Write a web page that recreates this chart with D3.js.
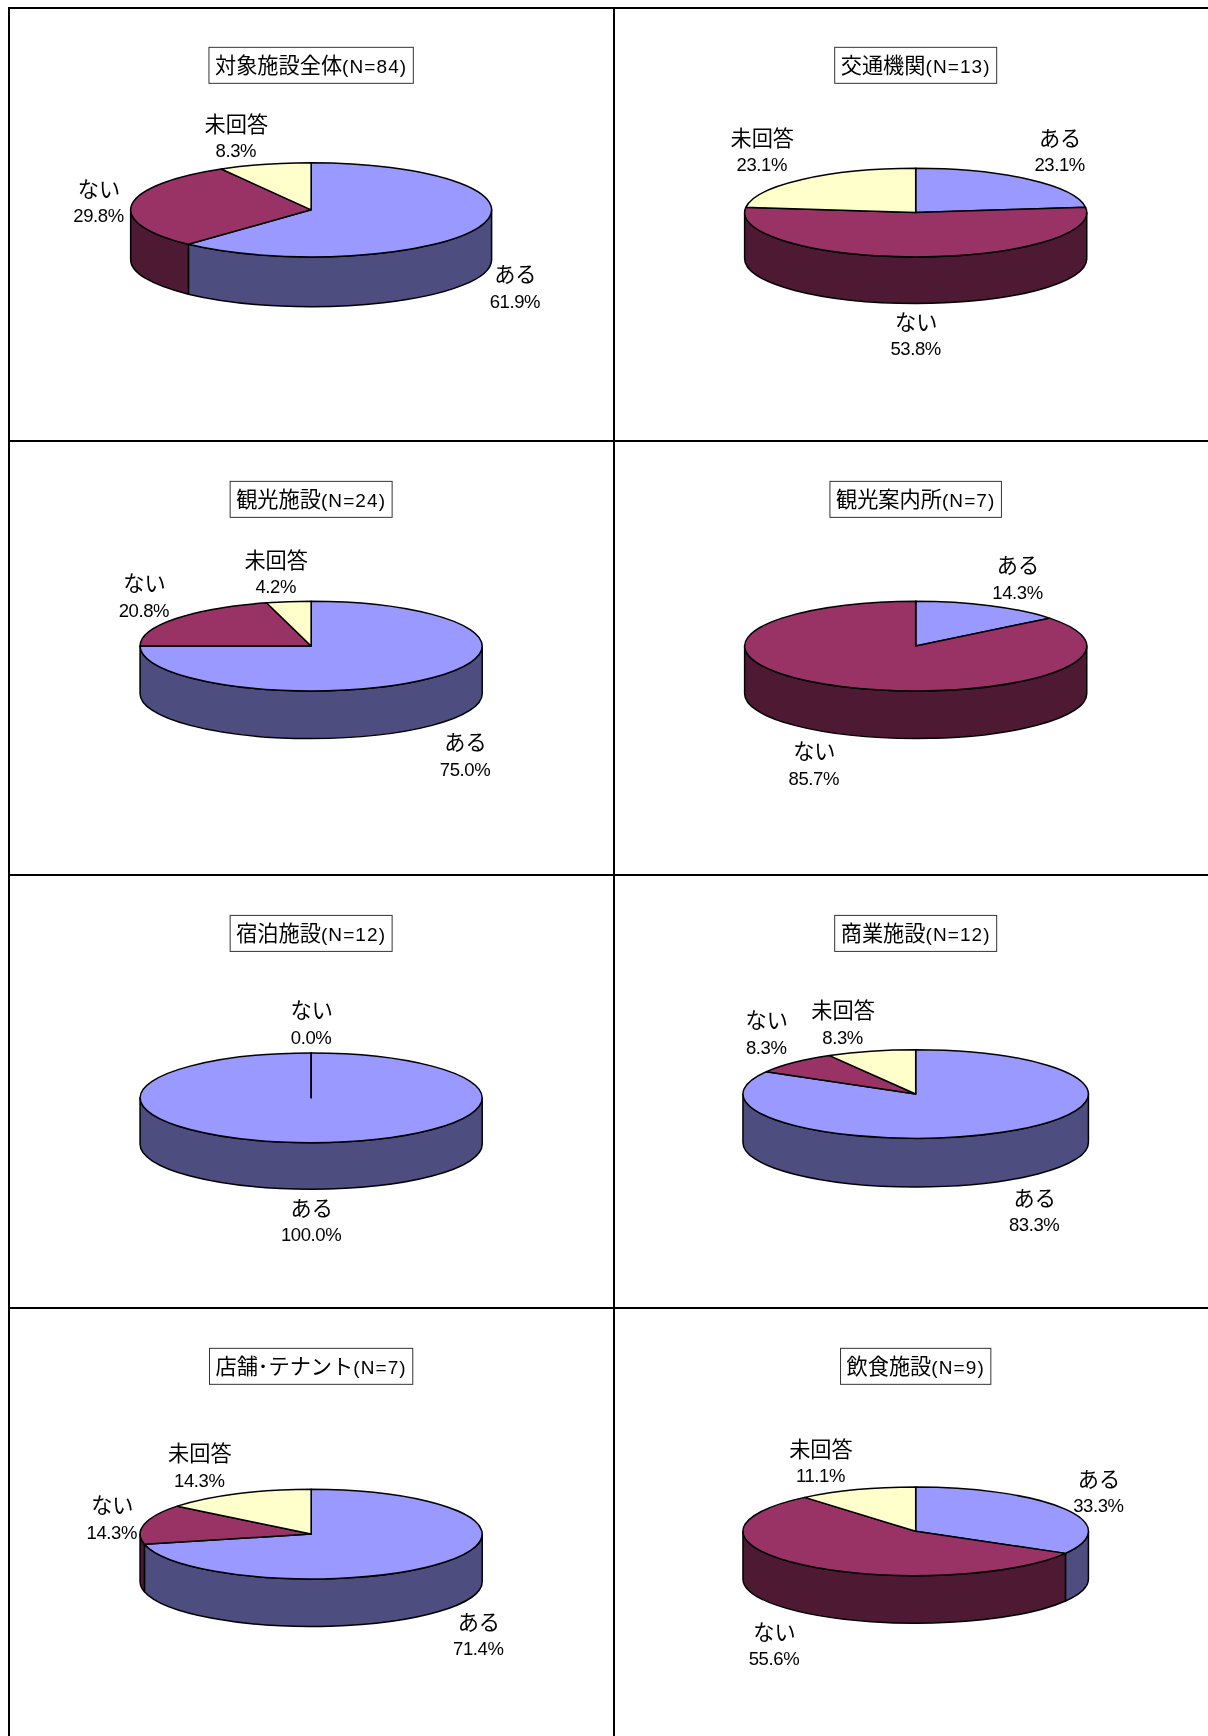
<!DOCTYPE html>
<html lang="ja">
<head>
<meta charset="utf-8">
<script src="https://cdn.jsdelivr.net/npm/d3@7/dist/d3.min.js"></script>
<style>
html,body{margin:0;padding:0;background:#fff}
svg{display:block;filter:blur(0.35px)}
</style>
</head>
<body>
<svg id="c" width="1208" height="1736" viewBox="0 0 1208 1736"></svg>
<script>
// ---- data ----
const titles = ["対象施設全体(N=84)","交通機関(N=13)","観光施設(N=24)","観光案内所(N=7)","宿泊施設(N=12)","商業施設(N=12)","店舗･テナント(N=7)","飲食施設(N=9)"];
const categories = ["ある","ない","未回答"];
const aruValues  = [61.9,23.1,75.0,14.3,100.0,83.3,71.4,33.3];
const naiValues  = [29.8,53.8,20.8,85.7,0.0,8.3,14.3,55.6];
const mikaitoValues = [8.3,23.1,4.2,0,0,8.3,14.3,11.1];
// category indexes with no label in a panel
const hiddenLabels = [[],[],[],[2],[2],[],[],[]];

// ---- layout (in px of the 1091-wide view, scaled below) ----
const k = 1208/1091;
const pieLayout = [
 {cx:281,cy:189.5,rx:163,ry:42.5,d:45},
 {cx:827,cy:192,rx:154.5,ry:40,d:42},
 {cx:281,cy:583.5,rx:154.5,ry:40.5,d:43},
 {cx:827,cy:583.5,rx:154.5,ry:40.5,d:43},
 {cx:281,cy:991.5,rx:154.5,ry:40.5,d:42},
 {cx:827,cy:988,rx:156,ry:40,d:44},
 {cx:281,cy:1385.5,rx:154.5,ry:40.5,d:43},
 {cx:827,cy:1383,rx:156,ry:40,d:43}
];
const titleY = [59,59,451,451,843,843,1234,1234];
const titleX = [281,827,281,827,281,827,281,827];
const labelLayout = [
 [[465,248],[89,171],[213,112]],
 [[957,125],[827,291],[688,125]],
 [[420,671],[130,527],[249,506]],
 [[919,511],[735,679],null],
 [[281,1091],[281,913],null],
 [[934,1082],[692,922],[761,913]],
 [[432,1465],[101,1360],[180,1313]],
 [[992,1336],[699,1474],[741,1309]]
];
const gridX = [9,614];
const gridY = [8,441,875,1308];
const topColors = ["#9999FF","#993366","#FFFFCC"];
const sideColors = ["#4D4D80","#4D1933","#808066"];
const cjkSize = 21.2;

const svg = d3.select("#c");
const pie = d3.pie().sort(null).value(d=>d);
const fmt = d3.format(".1f");

function runs(sel, str, latinSize, latinSpacing){
  const parts = str.match(/[\x00-\x7F]+|[^\x00-\x7F]+/g);
  parts.forEach(p=>{
    const latin = /^[\x00-\x7F]/.test(p);
    const ts = sel.append("tspan")
      .attr("font-family", latin ? "'Liberation Sans',Arial,sans-serif" : "'Noto Sans CJK JP','Noto Sans',sans-serif")
      .attr("font-size", latin ? latinSize : cjkSize)
      .text(p);
    if(latin) ts.attr("letter-spacing",latinSpacing);
  });
}

function sidePath(p,a0,a1,d){
  const x=t=>p.cx*k+p.rx*k*Math.sin(t), y=t=>p.cy*k-p.ry*k*Math.cos(t);
  const rx=p.rx*k, ry=p.ry*k, h=d;
  return `M${x(a0)},${y(a0)}A${rx},${ry} 0 0 1 ${x(a1)},${y(a1)}L${x(a1)},${y(a1)+h}A${rx},${ry} 0 0 0 ${x(a0)},${y(a0)+h}Z`;
}

titles.forEach((title,i)=>{
  const vals = [aruValues[i],naiValues[i],mikaitoValues[i]];
  const p = pieLayout[i];
  const arcs = pie(vals);
  const g = svg.append("g");
  const depth = p.d*k;
  // sides: only the front half (pi/2 .. 3pi/2) can be seen
  arcs.forEach((a,j)=>{
    const a0=Math.max(a.startAngle,Math.PI/2), a1=Math.min(a.endAngle,Math.PI*1.5);
    if(a1<=a0) return;
    g.append("path").attr("d",sidePath(p,a0,a1,depth))
      .attr("fill",sideColors[j]).attr("stroke","#000").attr("stroke-width",1.5).attr("stroke-linejoin","round");
  });
  // top faces
  const arc = d3.arc().innerRadius(0).outerRadius(p.rx*k);
  const top = g.append("g").attr("transform",`translate(${p.cx*k},${p.cy*k}) scale(1,${p.ry/p.rx})`);
  arcs.forEach((a,j)=>{
    top.append("path").attr("d",arc(a)).attr("fill",topColors[j]).attr("stroke","#000")
      .attr("stroke-width",1.5).attr("vector-effect","non-scaling-stroke").attr("stroke-linejoin","round");
  });
  // labels
  categories.forEach((c,j)=>{
    if(hiddenLabels[i].includes(j)) return;
    const L = labelLayout[i][j];
    const t1 = svg.append("text").attr("x",L[0]*k+0.5).attr("y",L[1]*k+7.5).attr("text-anchor","middle").attr("fill","#000");
    runs(t1,c,18.5,-0.4);
    const t2 = svg.append("text").attr("x",L[0]*k).attr("y",L[1]*k+27+6).attr("text-anchor","middle").attr("fill","#000");
    runs(t2,fmt(vals[j])+"%",18.5,-0.4);
  });
  // title
  const tt = svg.append("text").attr("x",titleX[i]*k).attr("y",titleY[i]*k+7.5).attr("text-anchor","middle").attr("fill","#000");
  runs(tt,title,19,1.1);
  const b = tt.node().getBBox();
  svg.insert("rect","text")
    .attr("x",b.x-6).attr("width",b.width+12)
    .attr("y",titleY[i]*k-18).attr("height",36)
    .attr("fill","#fff").attr("stroke","#333").attr("stroke-width",1);
});

// panel rules
gridX.forEach(x=>svg.append("line").attr("x1",x).attr("x2",x).attr("y1",gridY[0]-1).attr("y2",1736).attr("stroke","#000").attr("stroke-width",2));
gridY.forEach(y=>svg.append("line").attr("x1",gridX[0]-1).attr("x2",1208).attr("y1",y).attr("y2",y).attr("stroke","#000").attr("stroke-width",2));
</script>
</body>
</html>
